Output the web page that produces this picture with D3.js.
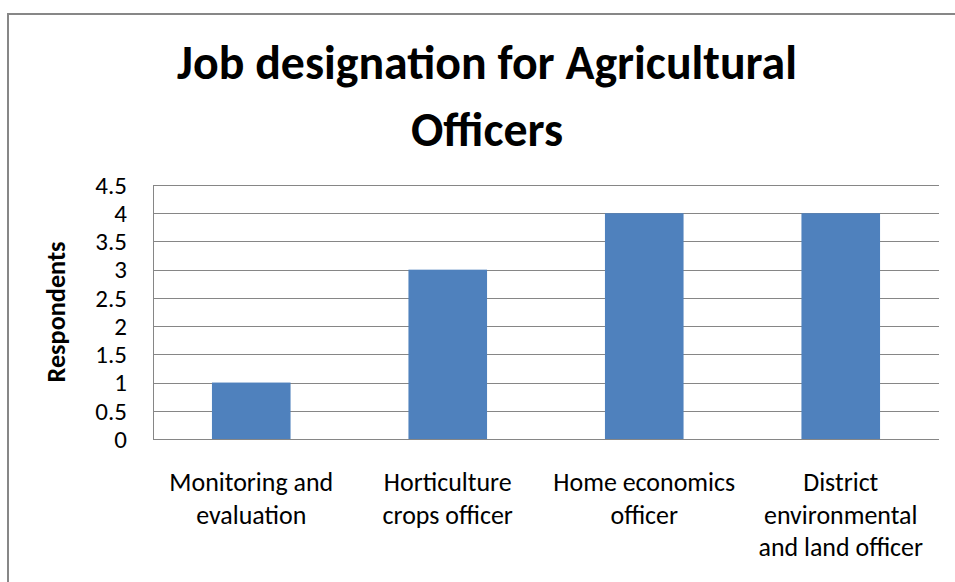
<!DOCTYPE html>
<html>
<head>
<meta charset="utf-8">
<script src="https://cdn.jsdelivr.net/npm/d3@7"></script>
<style>
  html, body { margin: 0; padding: 0; background: #fff; }
  svg { display: block; }
  text { font-family: Carlito, Calibri, "Open Sans", "Noto Sans", sans-serif; fill: #000; }
</style>
</head>
<body>
<svg id="chart" width="955" height="582"></svg>
<script>
const titleLines = ["Job designation for Agricultural", "Officers"];
const yAxisTitle = "Respondents";
const categories = [
  ["Monitoring and", "evaluation"],
  ["Horticulture", "crops officer"],
  ["Home economics", "officer"],
  ["District", "environmental", "and land officer"]
];
const values = [1, 3, 4, 4];
const yTicks = [0, 0.5, 1, 1.5, 2, 2.5, 3, 3.5, 4, 4.5];

const svg = d3.select("#chart");
const plot = { left: 153, right: 939, top: 185, bottom: 439 };

// chart frame (extends beyond the picture on right and bottom)
svg.append("rect")
  .attr("x", 8).attr("y", 14)
  .attr("width", 970).attr("height", 600)
  .attr("fill", "#fff").attr("stroke", "#878787").attr("stroke-width", 2);

const catKeys = categories.map((c, i) => i);
const x = d3.scaleBand().domain(catKeys).range([plot.left, plot.right])
  .paddingInner(0.6).paddingOuter(0.3);
const xCat = d3.scaleBand().domain(catKeys).range([plot.left, plot.right]).padding(0);
const y = d3.scaleLinear().domain([0, 4.5]).range([plot.bottom, plot.top]);

// gridlines
svg.append("g").selectAll("line").data(yTicks).join("line")
  .attr("x1", plot.left).attr("x2", plot.right)
  .attr("y1", d => Math.round(y(d)) + 0.5).attr("y2", d => Math.round(y(d)) + 0.5)
  .attr("stroke", "#868686").attr("stroke-width", 1);

// y axis line
svg.append("line")
  .attr("x1", plot.left + 0.5).attr("x2", plot.left + 0.5)
  .attr("y1", plot.top).attr("y2", plot.bottom + 1)
  .attr("stroke", "#868686").attr("stroke-width", 1);

// bars
svg.append("g").selectAll("rect").data(values).join("rect")
  .attr("x", (d, i) => x(i))
  .attr("width", x.bandwidth())
  .attr("y", d => y(d))
  .attr("height", d => y(0) - y(d))
  .attr("fill", "#4f81bd");

// y tick labels
const yAxis = d3.axisLeft(y).tickValues(yTicks).tickSize(0).tickPadding(0)
  .tickFormat(d => String(d));
const yg = svg.append("g").attr("transform", `translate(127,0)`).call(yAxis);
yg.select(".domain").remove();
yg.selectAll("text").attr("font-size", 25).attr("dy", "0.33em")
  .style("font-family", 'Carlito, Calibri, "Open Sans", sans-serif').attr("fill", "#000");

// y axis title
const yt = svg.append("text")
  .attr("transform", `translate(65,${(plot.top + plot.bottom) / 2}) rotate(-90)`)
  .attr("text-anchor", "middle")
  .attr("font-size", 20).attr("font-weight", "bold")
  .text(yAxisTitle);
{
  const w = yt.node().getComputedTextLength();
  yt.attr("font-size", 20 * 141 / w);
}

// category labels
const catG = svg.append("g");
categories.forEach((lines, i) => {
  const cx = xCat(i) + xCat.bandwidth() / 2;
  const t = catG.append("text").attr("text-anchor", "middle").attr("font-size", 20);
  lines.forEach((ln, j) => {
    t.append("tspan").attr("x", cx).attr("y", 491 + j * 32.5).text(ln);
  });
});
{
  const w = catG.select("text").select("tspan").node().getComputedTextLength();
  catG.selectAll("text").attr("font-size", 20 * 164 / w);
}

// title
const title = svg.append("text").attr("text-anchor", "middle")
  .attr("font-size", 42).attr("font-weight", "bold");
titleLines.forEach((ln, j) => {
  title.append("tspan").attr("x", 487).attr("y", 79 + j * 67).text(ln);
});
{
  const w = title.select("tspan").node().getComputedTextLength();
  title.attr("font-size", 42 * 620 / w);
}
</script>
</body>
</html>
